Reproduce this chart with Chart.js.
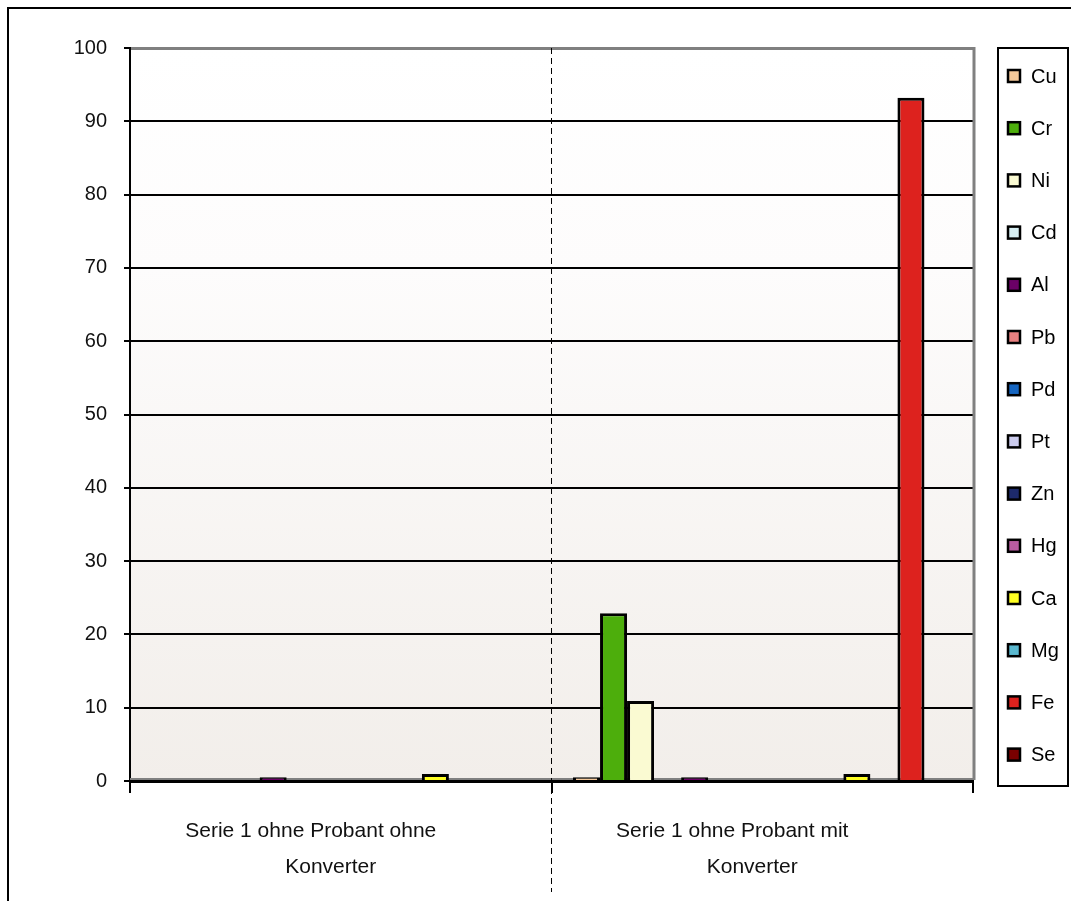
<!DOCTYPE html>
<html>
<head>
<meta charset="utf-8">
<script src="https://cdn.jsdelivr.net/npm/chart.js@4/dist/chart.umd.min.js"></script>
<style>
html,body{margin:0;padding:0;background:#fff;}
#wrap{position:relative;width:1071px;height:901px;}
</style>
</head>
<body>
<div id="wrap"><canvas id="c" width="1071" height="901"></canvas></div>
<script>
const categories = [["Serie 1 ohne Probant ohne", "Konverter"], ["Serie 1 ohne Probant mit", "Konverter"]];
const elements = ["Cu","Cr","Ni","Cd","Al","Pb","Pd","Pt","Zn","Hg","Ca","Mg","Fe","Se"];
const colors = ["#f5c99a","#4dae0c","#fafad2","#d6eef2","#6b0066","#e88080","#1565c0","#ccccee","#1d2a6b","#b85ca0","#ffff22","#5ab8cf","#dd221e","#7a0000"];
const valuesOhne = [0, 0, 0, 0, 0.5, 0, 0, 0, 0, 0, 0.95, 0, 0, 0];
const valuesMit  = [0.5, 22.9, 10.9, 0, 0.5, 0, 0, 0, 0, 0, 0.95, 0, 93.2, 0];
const yTicks = [0,10,20,30,40,50,60,70,80,90,100];

const FONT = "'Liberation Sans', Arial, sans-serif";
const FS = 20;

const datasets = elements.map((el, i) => ({
  label: el,
  data: [valuesOhne[i], valuesMit[i]],
  backgroundColor: colors[i],
  borderColor: "#000",
  borderWidth: 3,
  borderSkipped: 'start'
}));

const decor = {
  id: 'decor',
  beforeDraw(chart) {
    const ctx = chart.ctx, a = chart.chartArea;
    ctx.save();
    const g = ctx.createLinearGradient(0, a.top, 0, a.bottom);
    g.addColorStop(0, '#ffffff');
    g.addColorStop(0.3, '#fdfcfc');
    g.addColorStop(1, '#f2eeea');
    ctx.fillStyle = g;
    ctx.fillRect(a.left, a.top, a.right - a.left, a.bottom - a.top);
    ctx.restore();
  },
  beforeDatasetsDraw(chart) {
    const ctx = chart.ctx, a = chart.chartArea;
    ctx.save();
    ctx.strokeStyle = '#808080';
    ctx.lineWidth = 2;
    ctx.beginPath();
    ctx.moveTo(a.left, a.bottom - 2);
    ctx.lineTo(a.right, a.bottom - 2);
    ctx.stroke();
    ctx.restore();
  },
  afterDraw(chart) {
    const ctx = chart.ctx, a = chart.chartArea, xs = chart.scales.x;
    ctx.save();
    // gray plot border top/right
    ctx.strokeStyle = '#808080';
    ctx.lineWidth = 3;
    ctx.beginPath();
    ctx.moveTo(a.left + 1, a.top + 0.5);
    ctx.lineTo(a.right + 1, a.top + 0.5);
    ctx.lineTo(a.right + 1, a.bottom - 1);
    ctx.stroke();
    // dashed category divider
    const mid = (xs.getPixelForValue(0) + xs.getPixelForValue(1)) / 2;
    ctx.strokeStyle = '#000';
    ctx.lineWidth = 1;
    ctx.setLineDash([6, 4]);
    ctx.beginPath();
    ctx.moveTo(mid, a.top);
    ctx.lineTo(mid, 892);
    ctx.stroke();
    ctx.setLineDash([]);
    // category labels (two lines, as laid out in the original)
    ctx.fillStyle = '#111';
    ctx.font = '21px ' + FONT;
    ctx.textAlign = 'center';
    ctx.textBaseline = 'middle';
    const lineOffsets = [-30, -10];
    chart.data.labels.forEach((lab, i) => {
      const cx = xs.getPixelForValue(i);
      lab.forEach((line, j) => {
        ctx.fillText(line, cx + lineOffsets[j], 831 + j * 36);
      });
    });
    // outer frame (partially visible)
    ctx.lineWidth = 2;
    ctx.strokeStyle = '#000';
    ctx.beginPath();
    ctx.moveTo(8, 901);
    ctx.lineTo(8, 8);
    ctx.lineTo(1071, 8);
    ctx.stroke();
    // legend box
    ctx.strokeRect(998, 48, 70, 738);
    // legend items
    ctx.font = FS + 'px ' + FONT;
    ctx.textBaseline = 'middle';
    ctx.textAlign = 'left';
    chart.data.datasets.forEach((ds, i) => {
      const y = 76 + i * 52.2;
      ctx.fillStyle = ds.backgroundColor;
      ctx.fillRect(1008, y - 6, 12, 12);
      ctx.strokeStyle = '#000';
      ctx.lineWidth = 2.5;
      ctx.strokeRect(1008, y - 6, 12, 12);
      ctx.fillStyle = '#000';
      ctx.fillText(ds.label, 1031, y + 1);
    });
    ctx.restore();
  }
};

new Chart(document.getElementById('c'), {
  type: 'bar',
  data: { labels: categories, datasets },
  options: {
    responsive: false,
    animation: false,
    events: [],
    layout: { padding: { left: 0, top: 48, right: 98, bottom: 0 } },
    plugins: { legend: { display: false }, tooltip: { enabled: false } },
    datasets: { bar: { categoryPercentage: 0.898, barPercentage: 1.0 } },
    scales: {
      x: {
        afterFit(s) { s.height = 120; },
        grid: { offset: true, drawOnChartArea: false, color: '#000', lineWidth: 2, tickLength: 12 },
        border: { color: '#000', width: 3 },
        ticks: { display: false }
      },
      y: {
        min: 0, max: 100,
        afterFit(s) { s.width = 130; },
        afterBuildTicks(s) { s.ticks = yTicks.map(v => ({ value: v })); },
        grid: { color: '#000', lineWidth: 2, tickLength: 6 },
        border: { color: '#000', width: 2 },
        ticks: { color: '#111', font: { family: FONT, size: FS }, padding: 17 }
      }
    }
  },
  plugins: [decor]
});
</script>
</body>
</html>
